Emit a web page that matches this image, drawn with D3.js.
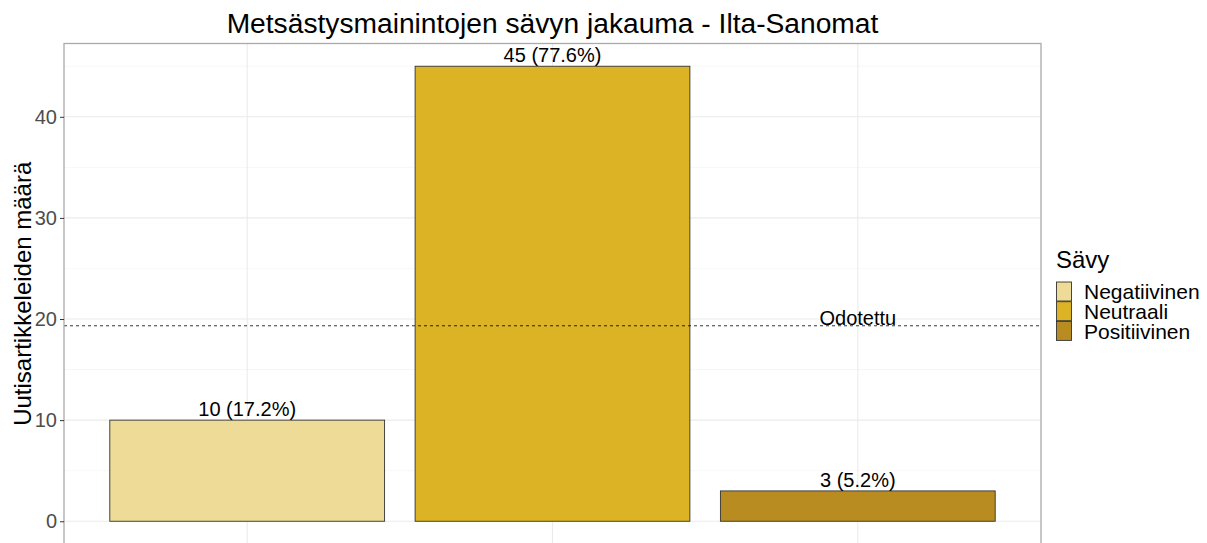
<!DOCTYPE html>
<html>
<head>
<meta charset="utf-8">
<script src="https://cdn.jsdelivr.net/npm/d3@7"></script>
<style>
  body { margin: 0; background: #fff; }
  text { font-family: "Liberation Sans", Arial, sans-serif; }
</style>
</head>
<body>
<div id="chart"></div>
<script>
// data
var categories = ["Negatiivinen", "Neutraali", "Positiivinen"];
var counts = [10, 45, 3];
var colors = ["#EEDB97", "#DBB325", "#B88C21"];
var yTicks = [0, 10, 20, 30, 40];

var width = 1207, height = 543;
var margin = {top: 43.5, right: 166, bottom: -1, left: 64};
var pw = width - margin.left - margin.right;
var ph = height - margin.top - margin.bottom;

var total = d3.sum(counts);
var expected = total / categories.length;

var svg = d3.select("#chart").append("svg")
    .attr("width", width)
    .attr("height", height);

// title
svg.append("text")
    .attr("x", margin.left + pw / 2)
    .attr("y", 33)
    .attr("text-anchor", "middle")
    .attr("font-size", 28.2)
    .attr("fill", "#000")
    .text("Metsästysmainintojen sävyn jakauma - Ilta-Sanomat");

var g = svg.append("g")
    .attr("transform", "translate(" + margin.left + "," + margin.top + ")");

// scales (ggplot style expansion)
var ymax = d3.max(counts);
var y = d3.scaleLinear()
    .domain([-ymax * 0.05, ymax * 1.05])
    .range([ph, 0]);

// discrete positions with 0.6 expansion
var xpos = d3.scalePoint()
    .domain(categories)
    .range([pw * 0.6 / 3.2, pw * 2.6 / 3.2]);
var barW = pw / 3.2 * 0.9;

// grid
var minor = d3.range(5, 50, 10);
g.selectAll(".minor").data(minor).enter().append("line")
    .attr("x1", 0).attr("x2", pw)
    .attr("y1", d => y(d)).attr("y2", d => y(d))
    .attr("stroke", "#f2f2f2").attr("stroke-width", 0.6);
g.selectAll(".major").data(yTicks).enter().append("line")
    .attr("x1", 0).attr("x2", pw)
    .attr("y1", d => y(d)).attr("y2", d => y(d))
    .attr("stroke", "#ebebeb").attr("stroke-width", 1.1);
g.selectAll(".vgrid").data(categories).enter().append("line")
    .attr("x1", d => xpos(d)).attr("x2", d => xpos(d))
    .attr("y1", 0).attr("y2", ph)
    .attr("stroke", "#ebebeb").attr("stroke-width", 1.1);

// bars
g.selectAll(".bar").data(counts).enter().append("rect")
    .attr("x", (d, i) => xpos(categories[i]) - barW / 2)
    .attr("y", d => y(d))
    .attr("width", barW)
    .attr("height", d => y(0) - y(d))
    .attr("fill", (d, i) => colors[i])
    .attr("stroke", "#333")
    .attr("stroke-width", 0.9);

// labels
g.selectAll(".lbl").data(counts).enter().append("text")
    .attr("x", (d, i) => xpos(categories[i]))
    .attr("y", d => y(d) - 4)
    .attr("text-anchor", "middle")
    .attr("font-size", 20)
    .attr("fill", "#000")
    .text(d => d + " (" + (d / total * 100).toFixed(1) + "%)");

// expected line
g.append("line")
    .attr("x1", 0).attr("x2", pw)
    .attr("y1", y(expected)).attr("y2", y(expected))
    .attr("stroke", "#000").attr("stroke-width", 0.8)
    .attr("stroke-dasharray", "3,3");
g.append("text")
    .attr("x", xpos(categories[2]))
    .attr("y", y(expected) - 1)
    .attr("text-anchor", "middle")
    .attr("font-size", 20)
    .attr("fill", "#000")
    .text("Odotettu");

// panel border
g.append("rect")
    .attr("x", 0).attr("y", 0)
    .attr("width", pw).attr("height", ph)
    .attr("fill", "none")
    .attr("stroke", "#aaaaaa")
    .attr("stroke-width", 1.3);

// y axis
var yAxis = g.append("g")
    .call(d3.axisLeft(y).tickValues(yTicks).tickSize(4).tickPadding(3));
yAxis.select(".domain").remove();
yAxis.selectAll(".tick line").attr("stroke", "#333");
yAxis.selectAll(".tick text")
    .attr("font-size", 20)
    .attr("fill", "#4d4d4d")
    .attr("font-family", "Liberation Sans, Arial, sans-serif");

svg.append("text")
    .attr("transform", "translate(31," + (margin.top + ph / 2) + ") rotate(-90)")
    .attr("text-anchor", "middle")
    .attr("font-size", 24)
    .attr("fill", "#000")
    .text("Uutisartikkeleiden määrä");

// legend
var lg = svg.append("g").attr("transform", "translate(1056,0)");
lg.append("text")
    .attr("x", 0).attr("y", 268)
    .attr("font-size", 24)
    .attr("fill", "#000")
    .text("Sävy");
lg.selectAll(".key").data(categories).enter().append("rect")
    .attr("x", 0.5)
    .attr("y", (d, i) => 282 + i * 19.7)
    .attr("width", 15)
    .attr("height", 19)
    .attr("fill", (d, i) => colors[i])
    .attr("stroke", "#333")
    .attr("stroke-width", 0.9);
lg.selectAll(".ktxt").data(categories).enter().append("text")
    .attr("x", 28)
    .attr("y", (d, i) => 292 + i * 19.7)
    .attr("dy", "0.35em")
    .attr("font-size", 21)
    .attr("fill", "#000")
    .text(d => d);
</script>
</body>
</html>
